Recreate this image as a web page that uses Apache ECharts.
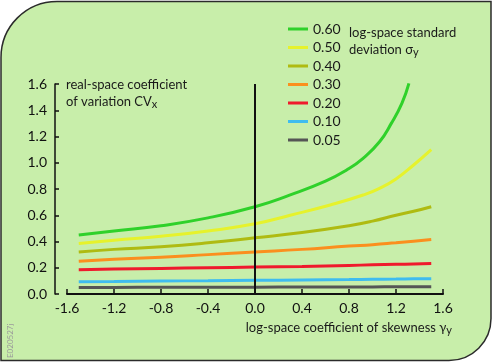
<!DOCTYPE html>
<html>
<head>
<meta charset="utf-8">
<script src="https://cdn.jsdelivr.net/npm/echarts@6/dist/echarts.min.js"></script>
<style>
  html, body { margin: 0; padding: 0; background: #fff; }
  #chart { width: 493px; height: 362px; }
</style>
</head>
<body>
<div id="chart"></div>
<script>
// skewness values (x) where curves were read
const skewX = [-1.5, -1.2, -0.8, -0.4, 0, 0.4, 0.8, 1.0, 1.2, 1.35, 1.5]
const skewXGreen = [-1.5, -1.2, -0.8, -0.4, 0, 0.3, 0.6, 0.78, 0.92, 1.06, 1.16, 1.25, 1.31]
const skewXYellow = [-1.5, -1.2, -0.8, -0.4, 0, 0.3, 0.64, 0.92, 1.06, 1.2, 1.35, 1.5]

// CV_x, one array per sigma_y
const cv060 = [0.45, 0.48, 0.52, 0.58, 0.665, 0.755, 0.86, 0.945, 1.034, 1.16, 1.3, 1.453, 1.605]
const cv050 = [0.385, 0.41, 0.44, 0.48, 0.535, 0.6, 0.678, 0.754, 0.805, 0.877, 0.983, 1.1]
const cv040 = [0.32, 0.34, 0.36, 0.39, 0.428, 0.468, 0.52, 0.555, 0.6, 0.63, 0.665]
const cv030 = [0.25, 0.265, 0.28, 0.3, 0.32, 0.34, 0.365, 0.375, 0.39, 0.402, 0.415]
const cv020 = [0.185, 0.19, 0.195, 0.2, 0.205, 0.21, 0.218, 0.222, 0.226, 0.229, 0.232]
const cv010 = [0.094, 0.096, 0.099, 0.101, 0.104, 0.107, 0.11, 0.112, 0.114, 0.116, 0.117]
const cv005 = [0.05, 0.05, 0.051, 0.051, 0.052, 0.053, 0.054, 0.054, 0.055, 0.055, 0.055]

const sigmaLabels = ['0.60', '0.50', '0.40', '0.30', '0.20', '0.10', '0.05']
const colors = ['#2fd12a', '#e6f22c', '#afbb12', '#fb8f1e', '#ef1b2d', '#3fbcef', '#555555']

const xTicks = [-1.6, -1.2, -0.8, -0.4, 0, 0.4, 0.8, 1.2, 1.6]
const yTicks = [0, 0.2, 0.4, 0.6, 0.8, 1.0, 1.2, 1.4, 1.6]

const FONT = 'Lato'
const pair = (xs, ys) => xs.map((x, i) => [x, ys[i]])

const curves = [
  pair(skewXGreen, cv060),
  pair(skewXYellow, cv050),
  pair(skewX, cv040),
  pair(skewX, cv030),
  pair(skewX, cv020),
  pair(skewX, cv010),
  pair(skewX, cv005),
]

const chart = echarts.init(document.getElementById('chart'))

const series = curves.map((data, i) => ({
  name: sigmaLabels[i],
  type: 'line',
  data: data,
  smooth: 0.5,
  showSymbol: false,
  symbol: 'none',
  z: 3 + (curves.length - i),
  lineStyle: { color: colors[i], width: 3 },
  itemStyle: { color: colors[i] },
}))

// vertical line at zero skewness
series.push({
  name: 'zero',
  type: 'line',
  data: [[0, 0], [0, 1.6]],
  showSymbol: false,
  symbol: 'none',
  silent: true,
  z: 20,
  lineStyle: { color: '#111', width: 2 },
})

const sub = { fontFamily: FONT, fontSize: 11, fill: '#1a1a1a', padding: [6, 0, 0, 0] }

chart.setOption({
  animation: false,
  backgroundColor: '#fff',
  color: colors,
  grid: {
    left: 67,
    right: 50,
    top: 84,
    bottom: 68,
  },
  legend: {
    data: sigmaLabels,
    orient: 'vertical',
    left: 283,
    top: 17,
    itemGap: 4.5,
    itemWidth: 20,
    itemHeight: 3,
    icon: 'rect',
    textStyle: { fontFamily: FONT, fontSize: 14, color: '#1a1a1a' },
  },
  xAxis: {
    type: 'value',
    min: -1.6,
    max: 1.6,
    interval: 0.4,
    splitLine: { show: false },
    axisLine: { show: true, onZero: false, lineStyle: { color: '#111', width: 2 } },
    axisTick: { show: true, inside: true, length: 5, lineStyle: { color: '#111', width: 1.5 } },
    axisLabel: {
      fontFamily: FONT,
      fontSize: 14,
      color: '#111',
      margin: 7,
      formatter: (v) => xTicks.some(t => Math.abs(t - v) < 1e-6) ? v.toFixed(1) : '',
    },
  },
  yAxis: {
    type: 'value',
    min: 0,
    max: 1.6,
    interval: 0.2,
    offset: 12,
    splitLine: { show: false },
    axisLine: { show: true, onZero: false, lineStyle: { color: '#111', width: 1.5 } },
    axisTick: { show: true, inside: true, length: 4, lineStyle: { color: '#111', width: 1.5 } },
    axisLabel: {
      fontFamily: FONT,
      fontSize: 14,
      color: '#111',
      margin: 8,
      formatter: (v) => yTicks.some(t => Math.abs(t - v) < 1e-6) ? v.toFixed(1) : '',
    },
  },
  graphic: [
    {
      type: 'rect',
      z: -10,
      silent: true,
      shape: { x: 1, y: 1.5, width: 490, height: 359, r: [56, 0, 42, 0] },
      style: { fill: '#c8eeaa', stroke: '#2b2b2b', lineWidth: 1.5 },
    },
    {
      type: 'text',
      left: 66,
      top: 76,
      style: {
        text: 'real-space coefficient\nof variation CV{s|x}',
        font: '13px ' + FONT,
        fill: '#1a1a1a',
        lineHeight: 17,
        rich: { s: sub },
      },
    },
    {
      type: 'text',
      left: 349,
      top: 24,
      style: {
        text: 'log-space standard\ndeviation σ{s|y}',
        font: '13px ' + FONT,
        fill: '#1a1a1a',
        lineHeight: 17,
        rich: { s: sub },
      },
    },
    {
      type: 'text',
      right: 41,
      top: 321,
      style: {
        text: 'log-space coefficient of skewness γ{s|y}',
        font: '13px ' + FONT,
        fill: '#1a1a1a',
        rich: { s: sub },
      },
    },
    {
      type: 'text',
      x: 6,
      y: 358,
      rotation: Math.PI / 2,
      style: {
        text: 'E020527j',
        font: '8px ' + FONT,
        fill: '#9a9a9a',
      },
    },
  ],
  series: series,
})
</script>
</body>
</html>
